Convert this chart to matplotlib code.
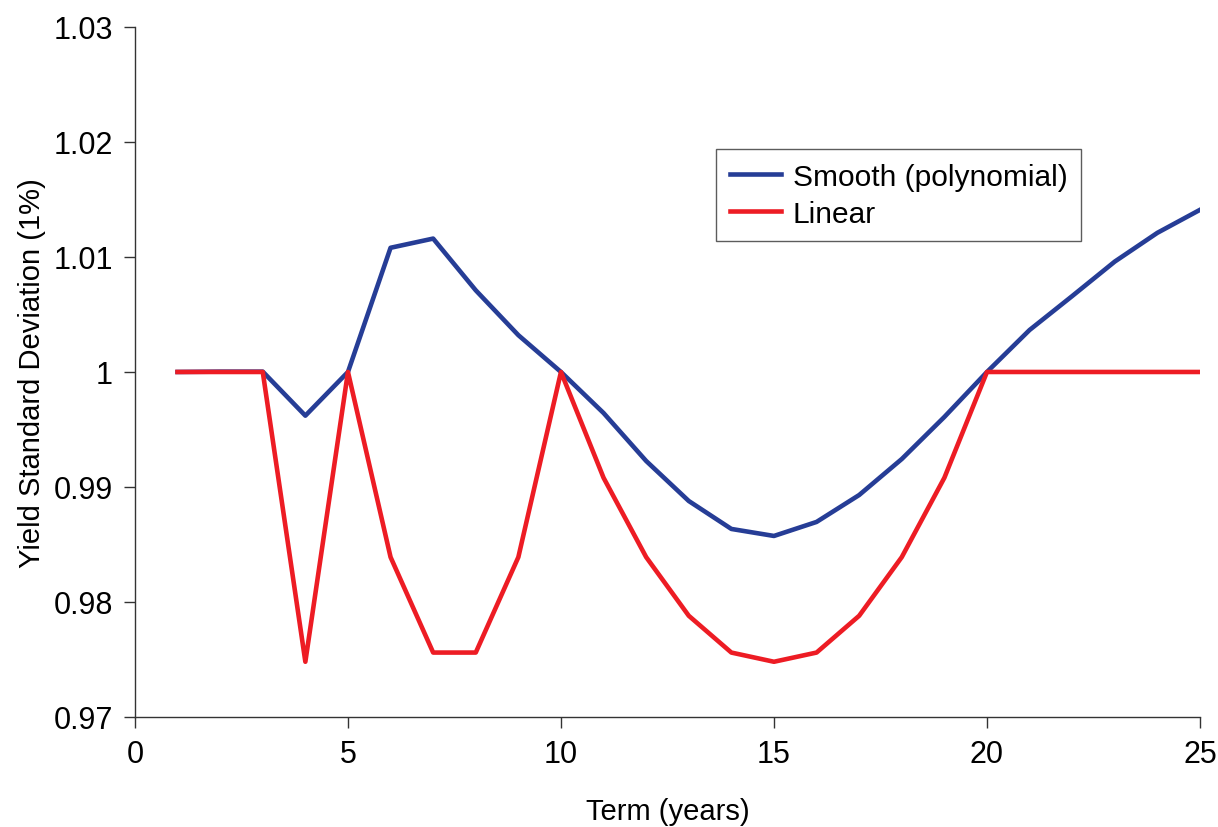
import matplotlib
matplotlib.use('Agg')
import matplotlib.pyplot as plt

plt.rcParams['font.family'] = ['Liberation Sans', 'DejaVu Sans']

term = list(range(1, 26))
smooth = [1.0000, 1.00003, 1.00003, 0.9962, 1.0000, 1.0108, 1.0116, 1.0071, 1.0032, 1.0000,
          0.99643, 0.99226, 0.98878, 0.98635, 0.98574, 0.98696, 0.98930, 0.99243, 0.99609, 1.0000,
          1.00365, 1.0066, 1.0096, 1.0121, 1.0141]
linear = [1.0, 1.0, 1.0, 0.9748, 1.0, 0.9839, 0.9756, 0.9756, 0.9839, 1.0,
          0.9908, 0.9839, 0.9788, 0.9756, 0.9748, 0.9756, 0.9788, 0.9839, 0.9908, 1.0,
          1.0, 1.0, 1.0, 1.0, 1.0]

fig = plt.figure(figsize=(12.18, 8.28), dpi=100)
ax = fig.add_axes([0.1108, 0.1329, 0.8744, 0.8333])

ax.plot(term, smooth, color='#263D96', lw=3.3, label='Smooth (polynomial)')
ax.plot(term, linear, color='#ED1C24', lw=3.3, label='Linear')

ax.set_xlim(0, 25)
ax.set_ylim(0.97, 1.03)
ax.set_xticks([0, 5, 10, 15, 20, 25])
ax.set_yticks([0.97, 0.98, 0.99, 1.0, 1.01, 1.02, 1.03])
ax.set_yticklabels(['0.97', '0.98', '0.99', '1', '1.01', '1.02', '1.03'])
ax.tick_params(direction='out', length=8, width=1, labelsize=22, color='#333333', pad=8)
for s in ['top', 'right']:
    ax.spines[s].set_visible(False)
for s in ['left', 'bottom']:
    ax.spines[s].set_color('#333333')
    ax.spines[s].set_linewidth(1)

ax.set_xlabel('Term (years)', fontsize=21, labelpad=20)
ax.set_ylabel('Yield Standard Deviation (1%)', fontsize=21, labelpad=5)

leg = ax.legend(loc='upper left', bbox_to_anchor=(0.546, 0.823), fontsize=21.5, frameon=True,
                fancybox=False, edgecolor='#333333', handlelength=1.7, borderpad=0.45,
                handletextpad=0.4, labelspacing=0.3, borderaxespad=0)
leg.get_frame().set_linewidth(1)

fig.savefig('out.png', dpi=100)
